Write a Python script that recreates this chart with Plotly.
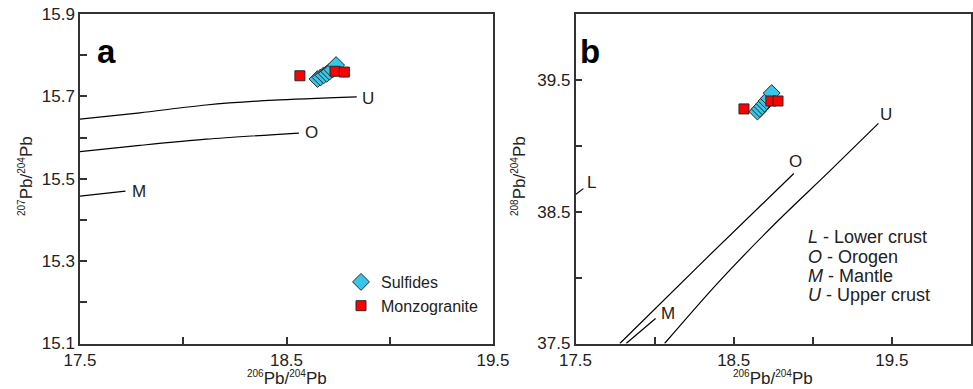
import plotly.graph_objects as go

# ---- data ----
sulf_206 = [18.650, 18.665, 18.680, 18.695, 18.708, 18.722, 18.740]
sulf_207 = [15.742, 15.746, 15.751, 15.755, 15.760, 15.765, 15.776]
sulf_208 = [39.26, 39.28, 39.30, 39.32, 39.34, 39.36, 39.40]

monz_206 = [18.565, 18.735, 18.780]
monz_207 = [15.750, 15.761, 15.759]
monz_208 = [39.28, 39.34, 39.34]

# model curves, panel a (207/204 vs 206/204)
a_U_x = [17.50, 17.79, 18.11, 18.44, 18.84]
a_U_y = [15.645, 15.660, 15.679, 15.691, 15.699]
a_O_x = [17.50, 17.79, 18.11, 18.56]
a_O_y = [15.566, 15.581, 15.596, 15.611]
a_M_x = [17.50, 17.72]
a_M_y = [15.458, 15.470]

# model curves, panel b (208/204 vs 206/204)
b_U_x = [18.063, 18.40, 18.767, 19.10, 19.415]
b_U_y = [37.50, 37.96, 38.416, 38.80, 39.17]
b_O_x = [17.78, 18.33, 18.88]
b_O_y = [37.50, 38.15, 38.79]
b_M_x = [17.82, 18.006]
b_M_y = [37.50, 37.69]
b_L_x = [17.50, 17.55]
b_L_y = [38.63, 38.675]

FONT = "Liberation Sans, Arial, sans-serif"
W, H = 973, 389
CYAN = "#35c6ea"
RED = "#ff0000"
EDGE = "#2a2a2a"

fig = go.Figure()

def curve(x, y, xa, ya):
    fig.add_trace(go.Scatter(x=x, y=y, mode="lines", xaxis=xa, yaxis=ya,
                             line=dict(color="black", width=1.2, shape="spline", smoothing=0.8),
                             showlegend=False, hoverinfo="skip"))

curve(a_U_x, a_U_y, "x", "y")
curve(a_O_x, a_O_y, "x", "y")
curve(a_M_x, a_M_y, "x", "y")
curve(b_U_x, b_U_y, "x2", "y2")
curve(b_O_x, b_O_y, "x2", "y2")
curve(b_M_x, b_M_y, "x2", "y2")
curve(b_L_x, b_L_y, "x2", "y2")

sulf_marker = dict(symbol="diamond", size=13, color=CYAN, line=dict(color=EDGE, width=1))
monz_marker = dict(symbol="square", size=10, color=RED, line=dict(color=EDGE, width=1))

fig.add_trace(go.Scatter(x=sulf_206, y=sulf_207, mode="markers", name="Sulfides",
                         marker=sulf_marker, xaxis="x", yaxis="y"))
fig.add_trace(go.Scatter(x=monz_206, y=monz_207, mode="markers", name="Monzogranite",
                         marker=monz_marker, xaxis="x", yaxis="y"))
fig.add_trace(go.Scatter(x=sulf_206, y=sulf_208, mode="markers", showlegend=False,
                         marker=sulf_marker, xaxis="x2", yaxis="y2"))
fig.add_trace(go.Scatter(x=monz_206, y=monz_208, mode="markers", showlegend=False,
                         marker=monz_marker, xaxis="x2", yaxis="y2"))

ax_common = dict(showline=True, linecolor="#333", linewidth=1.5, mirror=True,
                 ticks="inside", ticklen=7, tickwidth=1.5, tickcolor="#333",
                 showgrid=False, zeroline=False, automargin=False,
                 tickfont=dict(family=FONT, size=17, color="#222"))
minor_common = dict(ticks="inside", ticklen=7, tickwidth=1.5, tickcolor="#333")

ydom = [1 - 343.5 / H, 1 - 14 / H]

fig.update_layout(
    width=W, height=H,
    margin=dict(l=0, r=0, t=0, b=0),
    paper_bgcolor="white", plot_bgcolor="white",
    showlegend=True,
    legend=dict(x=341 / W, y=1 - 265 / H, xanchor="left", yanchor="top",
                font=dict(family=FONT, size=16, color="#222"),
                bgcolor="rgba(0,0,0,0)", tracegroupgap=0, itemwidth=30),
    xaxis=dict(domain=[80 / W, 493 / W], range=[17.5, 19.5],
               tick0=17.5, dtick=1, tickformat=".1f",
               minor=dict(dtick=0.5, tick0=17.5, **minor_common),
               anchor="y", **ax_common),
    yaxis=dict(domain=ydom, range=[15.1, 15.9],
               tick0=15.1, dtick=0.2, tickformat=".1f",
               minor=dict(dtick=0.1, tick0=15.1, **minor_common),
               anchor="x", **ax_common),
    xaxis2=dict(domain=[575.5 / W, 971 / W], range=[17.5, 20.0],
                tick0=17.5, dtick=1, tickformat=".1f",
                minor=dict(dtick=0.5, tick0=17.5, **minor_common),
                anchor="y2", **ax_common),
    yaxis2=dict(domain=ydom, range=[37.5, 40.0],
                tick0=37.5, dtick=1, tickformat=".1f",
                minor=dict(dtick=0.5, tick0=37.5, **minor_common),
                anchor="x2", **ax_common),
)

def label(text, x, y, xa, ya, size=17, xanchor="center", angle=0):
    fig.add_annotation(text=text, x=x, y=y, xref=xa, yref=ya, showarrow=False,
                       xanchor=xanchor, yanchor="middle", textangle=angle,
                       font=dict(family=FONT, size=size, color="#222"))

def sup(n):
    return "<sup><span style='font-size:10px'>%s</span></sup>" % n

# axis titles
xt = sup("206") + "Pb/" + sup("204") + "Pb"
label(xt, 287 / W, 1 - 378 / H, "paper", "paper")
label(xt, 773 / W, 1 - 378 / H, "paper", "paper")
label(sup("207") + "Pb/" + sup("204") + "Pb", 26 / W, 1 - 176 / H, "paper", "paper", angle=-90)
label(sup("208") + "Pb/" + sup("204") + "Pb", 519 / W, 1 - 176 / H, "paper", "paper", angle=-90)

# curve labels panel a
label("U", 18.895, 15.696, "x", "y")
label("O", 18.62, 15.613, "x", "y")
label("M", 17.785, 15.470, "x", "y")
# curve labels panel b
label("U", 19.46, 39.24, "x2", "y2")
label("O", 18.893, 38.88, "x2", "y2")
label("M", 18.082, 37.73, "x2", "y2")
label("L", 17.604, 38.72, "x2", "y2")

# key in panel b
key_lines = ["<i>L</i> - Lower crust", "<i>O</i> - Orogen", "<i>M</i> - Mantle", "<i>U</i> - Upper crust"]
key_y = [38.31, 38.16, 38.01, 37.865]
for t, yy in zip(key_lines, key_y):
    label(t, 18.96, yy, "x2", "y2", size=18, xanchor="left")

# panel letters
fig.add_annotation(text="<b>a</b>", x=95 / W, y=1 - 31 / H, xref="paper", yref="paper",
                   xanchor="left", showarrow=False, font=dict(family=FONT, size=33, color="black"))
fig.add_annotation(text="<b>b</b>", x=578 / W, y=1 - 31 / H, xref="paper", yref="paper",
                   xanchor="left", showarrow=False, font=dict(family=FONT, size=33, color="black"))

fig.write_html("out.html")
